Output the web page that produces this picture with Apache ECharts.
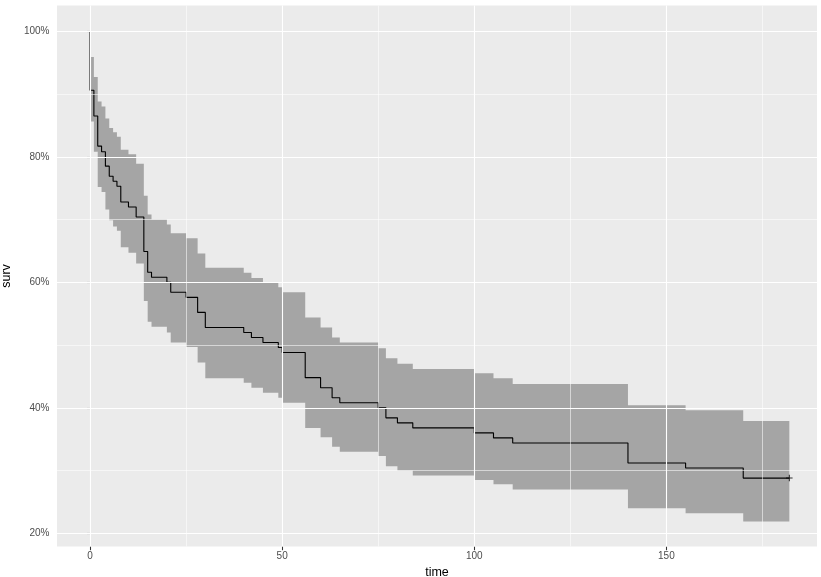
<!DOCTYPE html>
<html>
<head>
<meta charset="utf-8">
<script src="https://cdn.jsdelivr.net/npm/echarts@6/dist/echarts.min.js"></script>
<style>
html,body{margin:0;padding:0;background:#fff;}
#chart{width:821px;height:577px;}
</style>
</head>
<body>
<div id="chart"></div>
<script>
// Kaplan-Meier estimate
const times = [0,1,2,3,4,5,6,7,8,10,12,14,15,16,20,21,25,28,30,40,42,45,49,50,56,60,63,65,75,77,80,84,100,105,110,140,155,170];
const surv  = [90.6,86.5,81.7,80.8,78.5,76.9,76.1,75.3,72.8,72.0,70.4,64.9,61.6,60.8,60.0,58.4,57.6,55.2,52.8,52.0,51.2,50.4,49.6,48.8,44.8,43.2,41.6,40.8,40.0,38.4,37.6,36.8,36.0,35.2,34.4,31.2,30.4,28.8];
const upper = [95.9,92.7,88.8,88.0,86.1,84.6,83.9,83.2,81.1,80.4,78.9,73.8,70.8,70.0,69.2,67.8,67.0,64.6,62.3,61.5,60.7,59.9,59.2,58.4,54.4,52.8,51.2,50.4,49.5,47.9,47.0,46.2,45.5,44.7,43.8,40.4,39.6,37.9];
const lower = [85.6,80.8,75.2,74.4,71.6,69.9,68.9,68.2,65.6,64.7,63.0,57.0,53.7,52.9,52.0,50.4,49.7,47.2,44.7,44.0,43.2,42.4,41.6,40.8,36.8,35.3,33.8,33.0,32.3,30.7,30.0,29.2,28.5,27.8,27.0,24.0,23.2,21.9];
const startSurv = 100;
const endTime = 182;

// axis breaks
const xMajor = [0,50,100,150];
const xMinor = [25,75,125,175];
const yMajor = [20,40,60,80,100];
const yMinor = [30,50,70,90];

const FONT = "'Liberation Sans', Arial, Helvetica, sans-serif";

// line points (step 'end')
const linePts = [[0, startSurv]];
for (let i = 0; i < times.length; i++) linePts.push([times[i], surv[i]]);
linePts.push([endTime, surv[surv.length - 1]]);

// band polygon in data space
function bandPolygon() {
  const pts = [];
  const n = times.length;
  for (let i = 0; i < n; i++) {
    const t1 = i + 1 < n ? times[i + 1] : endTime;
    pts.push([times[i], upper[i]]);
    pts.push([t1, upper[i]]);
  }
  for (let i = n - 1; i >= 0; i--) {
    const t1 = i + 1 < n ? times[i + 1] : endTime;
    pts.push([t1, lower[i]]);
    pts.push([times[i], lower[i]]);
  }
  return pts;
}
const bandPts = bandPolygon();

const gridLines = [];
xMajor.forEach(v => gridLines.push({xAxis: v, lineStyle: {width: 1.1}}));
xMinor.forEach(v => gridLines.push({xAxis: v, lineStyle: {width: 0.55}}));
yMajor.forEach(v => gridLines.push({yAxis: v, lineStyle: {width: 1.1}}));
yMinor.forEach(v => gridLines.push({yAxis: v, lineStyle: {width: 0.55}}));

const chart = echarts.init(document.getElementById('chart'), null, {renderer: 'canvas'});
chart.setOption({
  animation: false,
  backgroundColor: '#ffffff',
  grid: {left: 57, right: 4, top: 5.5, bottom: 30.5, show: true, backgroundColor: '#EBEBEB', borderWidth: 0,
    containLabel: false, outerBoundsMode: 'none'},
  xAxis: {
    type: 'value', min: -8.6, max: 189.2,
    name: 'time', nameLocation: 'middle', nameGap: 16,
    nameTextStyle: {color: '#000', fontSize: 12.5, fontFamily: FONT},
    axisLine: {show: false},
    axisTick: {show: true, length: 3.7, customValues: xMajor, lineStyle: {color: '#333', width: 1.07}},
    axisLabel: {customValues: xMajor, color: '#4D4D4D', fontSize: 10, fontFamily: FONT, margin: 4.5},
    splitLine: {show: false}
  },
  yAxis: {
    type: 'value', min: 17.9, max: 104.1,
    name: 'surv', nameLocation: 'middle', nameGap: 39,
    nameTextStyle: {color: '#000', fontSize: 12.5, fontFamily: FONT},
    axisLine: {show: false},
    axisTick: {show: true, length: 3.7, customValues: yMajor, lineStyle: {color: '#333', width: 1.07}},
    axisLabel: {customValues: yMajor, color: '#4D4D4D', fontSize: 10, fontFamily: FONT, margin: 7.5,
      formatter: v => v + '%'},
    splitLine: {show: false}
  },
  series: [
    {
      type: 'line', data: [], z: 1, silent: true,
      markLine: {silent: true, symbol: ['none','none'], label: {show: false},
        lineStyle: {color: '#ffffff', type: 'solid'}, emphasis: {disabled: true},
        data: gridLines}
    },
    {
      type: 'custom', z: 2, silent: true,
      data: [[0, startSurv]],
      renderItem: function (params, api) {
        const pts = bandPts.map(p => api.coord(p));
        return {type: 'polygon', shape: {points: pts},
          style: {fill: 'rgba(127,127,127,0.65)', stroke: null}};
      }
    },
    {
      type: 'line', z: 3, step: 'end', data: linePts, showSymbol: false, silent: true,
      lineStyle: {color: '#000', width: 1.1}
    },
    {
      type: 'scatter', z: 4, silent: true,
      data: [[endTime, surv[surv.length - 1]]],
      symbol: 'path://M-0.16,-1H0.16V-0.16H1V0.16H0.16V1H-0.16V0.16H-1V-0.16H-0.16Z',
      symbolSize: 6.5,
      itemStyle: {color: '#000'}
    }
  ]
});
</script>
</body>
</html>
